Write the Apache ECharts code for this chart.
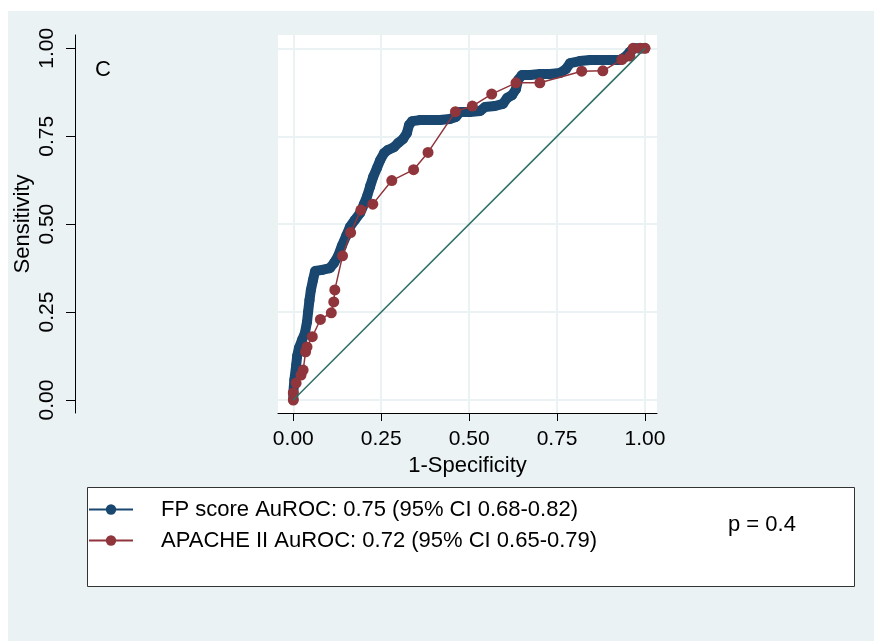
<!DOCTYPE html>
<html>
<head>
<meta charset="utf-8">
<script src="https://cdn.jsdelivr.net/npm/echarts@6/dist/echarts.min.js"></script>
<style>
html,body{margin:0;padding:0;background:#fff;}
#chart{width:874px;height:641px;}
</style>
</head>
<body>
<div id="chart"></div>
<script>
// ---- data ----
var tickValues = [0, 0.25, 0.5, 0.75, 1];
var fpName = 'FP score AuROC: 0.75 (95% CI 0.68-0.82)';
var apName = 'APACHE II AuROC: 0.72 (95% CI 0.65-0.79)';
var refName = 'Reference';
var pText = 'p = 0.4';
var panelLabel = 'C';

// FP score ROC points [1-specificity, sensitivity]
var fpX = [0, 0, 0.003, 0.008, 0.011, 0.016, 0.025, 0.033, 0.039, 0.042, 0.046, 0.05, 0.056, 0.062, 0.082, 0.104, 0.116, 0.127, 0.138, 0.15, 0.161, 0.175, 0.19, 0.201, 0.21, 0.218, 0.227, 0.238, 0.247, 0.258, 0.269, 0.286, 0.298, 0.312, 0.323, 0.329, 0.338, 0.36, 0.389, 0.417, 0.445, 0.462, 0.474, 0.502, 0.531, 0.545, 0.573, 0.596, 0.608, 0.622, 0.633, 0.639, 0.65, 0.673, 0.702, 0.73, 0.758, 0.775, 0.787, 0.815, 0.844, 0.872, 0.9, 0.929, 0.943, 0.957, 0.969, 0.986, 1];
var fpY = [0, 0.02, 0.057, 0.097, 0.125, 0.148, 0.171, 0.19, 0.222, 0.25, 0.284, 0.313, 0.341, 0.367, 0.37, 0.375, 0.39, 0.409, 0.438, 0.466, 0.492, 0.512, 0.532, 0.557, 0.58, 0.606, 0.634, 0.66, 0.682, 0.702, 0.711, 0.719, 0.731, 0.742, 0.759, 0.782, 0.793, 0.796, 0.796, 0.796, 0.799, 0.805, 0.819, 0.819, 0.822, 0.833, 0.836, 0.842, 0.859, 0.867, 0.884, 0.91, 0.924, 0.924, 0.927, 0.927, 0.93, 0.941, 0.958, 0.964, 0.967, 0.967, 0.967, 0.967, 0.975, 0.99, 1, 1, 1];

// APACHE II ROC points
var apX = [0, 0, 0.008, 0.022, 0.028, 0.035, 0.039, 0.054, 0.077, 0.108, 0.115, 0.118, 0.14, 0.163, 0.192, 0.226, 0.28, 0.342, 0.383, 0.461, 0.509, 0.564, 0.633, 0.701, 0.82, 0.88, 0.934, 0.957, 0.966, 0.986, 1];
var apY = [0, 0.02, 0.048, 0.071, 0.085, 0.137, 0.151, 0.18, 0.229, 0.248, 0.279, 0.313, 0.41, 0.476, 0.54, 0.557, 0.624, 0.655, 0.704, 0.82, 0.836, 0.87, 0.902, 0.902, 0.935, 0.936, 0.968, 0.978, 1, 1, 1];

// reference diagonal
var refX = [0, 1];
var refY = [0, 1];

function pairs(xs, ys) { return xs.map(function (x, i) { return [x, ys[i]]; }); }

var FONT = 'Liberation Sans, Arial, sans-serif';
var chart = echarts.init(document.getElementById('chart'), null, {renderer: 'canvas'});
var option = {
  animation: false,
  backgroundColor: '#ffffff',
  graphic: [
    {type: 'rect', z: -10, shape: {x: 8, y: 11, width: 866, height: 630}, style: {fill: '#eaf2f3'}},
    {type: 'rect', z: -5, shape: {x: 87.5, y: 487.5, width: 767, height: 99}, style: {fill: '#ffffff', stroke: '#333333', lineWidth: 1}},
    {type: 'text', left: 95, top: 59, style: {text: panelLabel, fontSize: 22, fontFamily: FONT, fill: '#000'}},
    {type: 'text', left: 728, top: 514, style: {text: pText, fontSize: 22, fontFamily: FONT, fill: '#000'}}
  ],
  grid: {left: 278, right: 217, top: 35, bottom: 228, show: true, backgroundColor: '#ffffff', borderWidth: 0},
  xAxis: {
    type: 'value', min: -0.0435, max: 1.034,
    name: '1-Specificity', nameLocation: 'middle', nameGap: 37,
    nameTextStyle: {fontSize: 22, fontFamily: FONT, color: '#000'},
    axisLine: {show: true, onZero: false, lineStyle: {color: '#000', width: 1}},
    axisTick: {show: true, length: 8, customValues: tickValues, lineStyle: {color: '#000'}},
    axisLabel: {customValues: tickValues, margin: 16, fontSize: 21, fontFamily: FONT, color: '#000',
      formatter: function (v) { return v.toFixed(2); }},
    splitLine: {show: true, lineStyle: {color: '#eaf2f3', width: 2}}
  },
  yAxis: {
    type: 'value', min: -0.037, max: 1.038, offset: 203,
    name: 'Sensitivity', nameLocation: 'middle', nameGap: 41,
    nameTextStyle: {fontSize: 22, fontFamily: FONT, color: '#000'},
    axisLine: {show: true, onZero: false, lineStyle: {color: '#000', width: 1}},
    axisTick: {show: true, length: 9, customValues: tickValues, lineStyle: {color: '#000'}},
    axisLabel: {customValues: tickValues, margin: 17, rotate: 90, fontSize: 21, fontFamily: FONT, color: '#000',
      formatter: function (v) { return v.toFixed(2); }},
    splitLine: {show: true, lineStyle: {color: '#eaf2f3', width: 2}}
  },
  legend: {
    data: [fpName, apName],
    orient: 'vertical', left: 88, top: 494, padding: 0,
    itemWidth: 44, itemHeight: 13, itemGap: 0,
    selectedMode: false,
    lineStyle: {width: 2},
    textStyle: {fontSize: 22, fontFamily: FONT, color: '#000', lineHeight: 22, padding: [0, 0, 9, 23]}
  },
  series: [
    {
      name: fpName, type: 'line', data: pairs(fpX, fpY),
      symbol: 'circle', symbolSize: 10, showSymbol: true,
      itemStyle: {color: '#1a476f'},
      lineStyle: {color: '#1a476f', width: 10},
      z: 2
    },
    {
      name: apName, type: 'line', data: pairs(apX, apY),
      symbol: 'circle', symbolSize: 11, showSymbol: true,
      itemStyle: {color: '#90353b'},
      lineStyle: {color: '#90353b', width: 1.5},
      z: 3
    },
    {
      name: refName, type: 'line', data: pairs(refX, refY),
      symbol: 'none',
      lineStyle: {color: '#2f6f66', width: 1.5},
      z: 4
    }
  ]
};
chart.setOption(option);
</script>
</body>
</html>
